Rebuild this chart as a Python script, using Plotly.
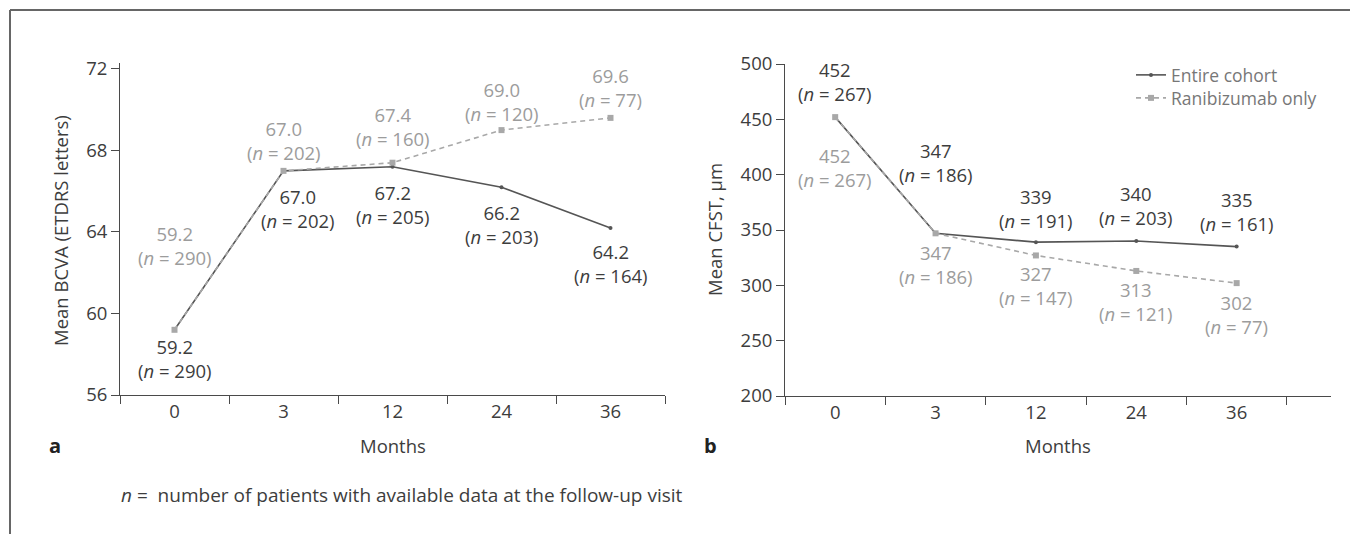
import plotly.graph_objects as go

# page body has an 8px margin; figure is sized/positioned to compensate
OFF = 8
W, H = 1358 - OFF, 534 - OFF

months = ["0", "3", "12", "24", "36"]

bcva_entire = [59.2, 67.0, 67.2, 66.2, 64.2]
bcva_entire_n = [290, 202, 205, 203, 164]
bcva_rani = [59.2, 67.0, 67.4, 69.0, 69.6]
bcva_rani_n = [290, 202, 160, 120, 77]

cfst_entire = [452, 347, 339, 340, 335]
cfst_entire_n = [267, 186, 191, 203, 161]
cfst_rani = [452, 347, 327, 313, 302]
cfst_rani_n = [267, 186, 147, 121, 77]

# label placement (pixel offsets of two-line label centers from points; + = up)
bcva_entire_dy = [-29, -38, -37.5, -37, -36]
bcva_entire_dx = [0, 14, 0, 0, 0]
bcva_rani_dy = [84, 30, 36, 29, 30]
cfst_entire_dy = [35.5, 71, 34, 36, 35.6]
cfst_rani_dy = [-50, -31, -30.5, -31, -31]

FONT = "Open Sans"
DARK = "#3d3d3d"
GRAY = "#9c9c9c"
LINE_DARK = "#555555"
LINE_GRAY = "#a8a8a8"
FS = 18.5
LEG_FS = 17.5

def px(x):
    return (x - OFF) / W

def py(y):
    return (534 - y) / H

fig = go.Figure()

def add_series(xa, ya, vals, name, color, dash, symbol, msize, show, leg="legend"):
    fig.add_trace(go.Scatter(
        x=months, y=vals, name=name, xaxis=xa, yaxis=ya,
        mode="lines+markers",
        line=dict(color=color, width=1.6, dash=dash),
        marker=dict(color=color, symbol=symbol, size=msize),
        showlegend=show, legend=leg, cliponaxis=False,
    ))

add_series("x", "y", bcva_entire, "Entire cohort", LINE_DARK, "solid", "circle", 4, False)
add_series("x", "y", bcva_rani, "Ranibizumab only", LINE_GRAY, "5px,4px", "square", 6, False)
add_series("x2", "y2", cfst_entire, "Entire cohort", LINE_DARK, "solid", "circle", 4, True, "legend")
add_series("x2", "y2", cfst_rani, "Ranibizumab only", LINE_GRAY, "5px,4px", "square", 6, True, "legend2")

ann = []

def point_labels(xref, yref, vals, ns, dys, dxs, color, fmt):
    for i, (v, n) in enumerate(zip(vals, ns)):
        ann.append(dict(
            xref=xref, yref=yref, x=i, y=v,
            text=f"{fmt.format(v)}<br>(<i>n</i> = {n})",
            showarrow=False, xanchor="center", yanchor="middle",
            yshift=dys[i], xshift=dxs[i] if dxs else 0,
            font=dict(family=FONT, size=FS, color=color),
        ))

point_labels("x", "y", bcva_entire, bcva_entire_n, bcva_entire_dy, bcva_entire_dx, DARK, "{:.1f}")
point_labels("x", "y", bcva_rani, bcva_rani_n, bcva_rani_dy, None, GRAY, "{:.1f}")
point_labels("x2", "y2", cfst_entire, cfst_entire_n, cfst_entire_dy, None, DARK, "{:d}")
point_labels("x2", "y2", cfst_rani, cfst_rani_n, cfst_rani_dy, None, GRAY, "{:d}")

def txt(x, y, text, size=FS, color=DARK, angle=0, xanchor="center", yanchor="middle"):
    ann.append(dict(xref="paper", yref="paper", x=px(x), y=py(y), text=text,
                    showarrow=False, xanchor=xanchor, yanchor=yanchor, textangle=angle,
                    font=dict(family=FONT, size=size, color=color)))

txt(60, 231, "Mean BCVA (ETDRS letters)", angle=-90)
txt(714, 230, "Mean CFST, µm", angle=-90)
txt(392.5, 445, "Months")
txt(1058, 445, "Months")
txt(55, 445, "<b>a</b>", size=20, color="#222222")
txt(710, 445, "<b>b</b>", size=20, color="#222222")
txt(119, 495, "<i>n</i> =  number of patients with available data at the follow-up visit",
    size=19, xanchor="left")

axis_common = dict(
    showgrid=False, zeroline=False, showline=True, linecolor="#4a4a4a", linewidth=1,
    ticks="outside", ticklen=8, tickcolor="#4a4a4a", tickwidth=1, automargin=False,
    tickfont=dict(family=FONT, size=FS, color=DARK),
)

legend_common = dict(xanchor="left", yanchor="top",
                     font=dict(family=FONT, size=LEG_FS, color="#777777"),
                     bgcolor="rgba(0,0,0,0)", borderwidth=0)

fig.update_layout(
    template="none",
    width=W, height=H,
    margin=dict(l=0, r=0, t=0, b=0, pad=0, autoexpand=False),
    paper_bgcolor="white", plot_bgcolor="white",
    xaxis=dict(axis_common, domain=[px(120), px(665)], anchor="y", type="category",
               range=[-0.5, 4.5], tickson="boundaries", categoryorder="array",
               categoryarray=months),
    yaxis=dict(axis_common, domain=[py(395), py(63)], anchor="x",
               range=[56, 72 + 6 / 20.44], tickvals=[56, 60, 64, 68, 72]),
    xaxis2=dict(axis_common, domain=[px(785), px(1331)], anchor="y2", type="category",
                range=[-0.5, 4.94], tickson="boundaries", categoryorder="array",
                categoryarray=months),
    yaxis2=dict(axis_common, domain=[py(396), py(64)], anchor="x2",
                range=[200, 500], tickvals=[200, 250, 300, 350, 400, 450, 500]),
    legend=dict(legend_common, x=px(1131), y=py(57)),
    legend2=dict(legend_common, x=px(1131), y=py(80)),
    annotations=ann,
    shapes=[
        dict(type="line", xref="paper", yref="paper", x0=px(10), y0=0, x1=px(10), y1=py(10),
             line=dict(color="#666666", width=2)),
        dict(type="line", xref="paper", yref="paper", x0=px(10), y0=py(10), x1=1, y1=py(10),
             line=dict(color="#666666", width=2)),
    ],
    font=dict(family=FONT, color=DARK),
)

fig.write_html("out.html")
